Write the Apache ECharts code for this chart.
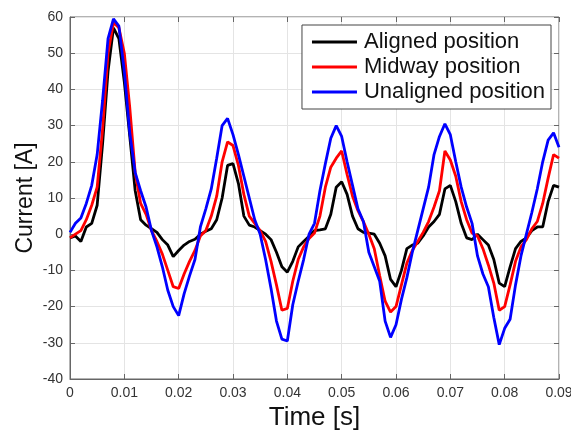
<!DOCTYPE html>
<html>
<head>
<meta charset="utf-8">
<script src="https://cdn.jsdelivr.net/npm/echarts@6/dist/echarts.min.js"></script>
<style>html,body{margin:0;padding:0;background:#fff;}#chart{width:571px;height:430px;}</style>
</head>
<body>
<div id="chart"></div>
<script>
// Time samples [s]
const time = [];
for (let i = 0; i <= 90; i++) time.push(+(i * 0.001).toFixed(3));

const seriesNames = ['Aligned position', 'Midway position', 'Unaligned position'];

const aligned = [
  -1, -0.5, -2, 2, 3, 8, 25, 45, 57, 54,
  42, 27, 12, 4, 2.5, 1.5, 0.5, -1.5, -3, -6.2,
  -4.5, -3, -2, -1.4, 0, 0.8, 1.5, 4, 10, 19,
  19.5, 14, 5, 2.5, 2, 1, 0, -1.5, -5, -9,
  -10.5, -7.5, -3.5, -2, -0.6, 1, 1.2, 1.5, 5.5, 13,
  14.5, 11, 5, 1.5, 0.5, 0.3, 0, -2.5, -6, -12.5,
  -14.5, -10, -4, -3, -2.5, -0.5, 2, 3.5, 5.5, 12.5,
  13.5, 9, 3, -1, -1.5, 0, -1.5, -3, -7, -13.5,
  -14.5, -9, -4, -2, -1, 1, 2, 2, 9, 13.5,
  13
];

const midway = [
  -1, 0, 1, 4, 8, 13, 29, 50, 58.5, 57,
  50, 35, 17, 8.5, 5.5, 1, -2, -5.5, -10, -14.5,
  -15, -11, -7.5, -4.5, -0.5, 1, 5, 10.5, 20, 25.5,
  24.5, 19, 11, 5, 3, 1, -2, -7.5, -14, -21,
  -20.5, -13, -7, -3.5, -1.2, 0.3, 5, 13, 18.5, 21,
  23, 16.5, 10.5, 6.5, 3.5, 0, -4, -11.5, -18.5, -21.5,
  -20, -14, -8, -4.5, -2, 0.5, 3.5, 7.5, 12, 23,
  20.5, 16, 9, 4, 0.3, -0.5, -4, -8.5, -13.5, -21,
  -20, -14, -7.5, -3.5, -1.5, 1.5, 3.5, 8.5, 15.5, 22,
  21
];

const unaligned = [
  0.5, 3, 4.5, 8.5, 13.5, 22, 37, 54, 59.5, 57.5,
  45, 28, 17, 12, 7.5, 1, -3.5, -9, -15.5, -20,
  -22.5, -16.5, -11.5, -7, 2, 7, 12.5, 21, 30, 32,
  27.5, 22, 16, 10, 4, 0, -7, -15, -24, -29,
  -29.5, -19.5, -13, -7, 0, 3, 12, 19.5, 26.5, 30,
  27, 20, 13.5, 7, 3.5, -5, -9, -13, -24, -28.5,
  -25, -18, -12, -5, 1, 7, 13, 22, 27, 30.5,
  27.5, 20, 13, 7.5, 3, -6, -11, -14.5, -23, -30.5,
  -26, -23.5, -14, -6, 0, 6, 12.5, 20, 26, 28,
  24
];

const xTicks = [0, 0.01, 0.02, 0.03, 0.04, 0.05, 0.06, 0.07, 0.08, 0.09];
const yTicks = [-40, -30, -20, -10, 0, 10, 20, 30, 40, 50, 60];

const colors = ['#000000', '#ff0000', '#0000ff'];
const values = [aligned, midway, unaligned];

const pair = arr => time.map((t, i) => [t, arr[i]]);

const chart = echarts.init(document.getElementById('chart'), null, {renderer: 'canvas'});
const font = '"Liberation Sans", Arial, sans-serif';
const axisLineStyle = {color: '#666', width: 1};

chart.setOption({
  animation: false,
  backgroundColor: '#ffffff',
  grid: {left: 70, right: 12, top: 17, bottom: 51, show: true, borderColor: '#666', borderWidth: 1,
         containLabel: false, outerBoundsMode: 'none'},
  legend: {
    orient: 'vertical', right: 20, top: 25,
    data: seriesNames,
    itemWidth: 45, itemHeight: 14, itemGap: 3,
    padding: [6, 6, 6, 10],
    borderColor: '#444', borderWidth: 1, backgroundColor: '#fff',
    icon: 'path://M0,0 L45,0 L45,3 L0,3 Z',
    textStyle: {fontFamily: font, fontSize: 22, color: '#111', padding: [0, 0, 0, 2]}
  },
  xAxis: [{
    type: 'value', min: 0, max: 0.09, interval: 0.01,
    name: 'Time [s]', nameLocation: 'middle', nameGap: 26, nameMoveOverlap: false,
    nameTextStyle: {fontFamily: font, fontSize: 26, color: '#111'},
    axisLine: {show: true, onZero: false, lineStyle: axisLineStyle},
    axisTick: {show: true, inside: true, length: 5, lineStyle: axisLineStyle},
    axisLabel: {fontFamily: font, fontSize: 14, color: '#333', margin: 7,
      formatter: v => { const r = Math.round(v * 100) / 100; return r === 0 ? '0' : String(r); }},
    splitLine: {show: true, lineStyle: {color: '#e4e4e4', width: 1}}
  }, {
    type: 'value', min: 0, max: 0.09, interval: 0.01, position: 'top',
    axisLine: {show: false, onZero: false}, axisLabel: {show: false}, splitLine: {show: false},
    axisTick: {show: true, inside: true, length: 5, lineStyle: axisLineStyle}
  }],
  yAxis: [{
    type: 'value', min: -40, max: 60, interval: 10,
    name: 'Current [A]', nameLocation: 'middle', nameGap: 33, nameRotate: 90, nameMoveOverlap: false,
    nameTextStyle: {fontFamily: font, fontSize: 23, color: '#111'},
    axisLine: {show: true, onZero: false, lineStyle: axisLineStyle},
    axisTick: {show: true, inside: true, length: 5, lineStyle: axisLineStyle},
    axisLabel: {fontFamily: font, fontSize: 14, color: '#333', margin: 7},
    splitLine: {show: true, lineStyle: {color: '#e4e4e4', width: 1}}
  }, {
    type: 'value', min: -40, max: 60, interval: 10, position: 'right',
    axisLine: {show: false, onZero: false}, axisLabel: {show: false}, splitLine: {show: false},
    axisTick: {show: true, inside: true, length: 5, lineStyle: axisLineStyle}
  }],
  series: values.map((arr, i) => ({
    name: seriesNames[i], type: 'line', data: pair(arr),
    xAxisIndex: 0, yAxisIndex: 0,
    showSymbol: false, symbol: 'none',
    lineStyle: {color: colors[i], width: 2.8},
    itemStyle: {color: colors[i]},
    z: 2 + i
  }))
});
</script>
</body>
</html>
